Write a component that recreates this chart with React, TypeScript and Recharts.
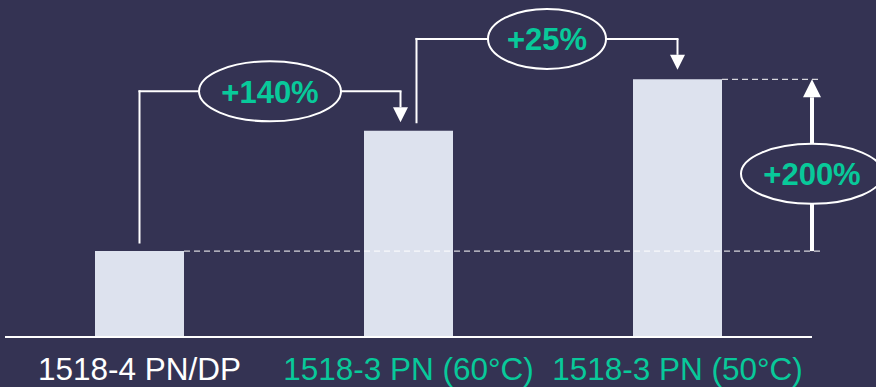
import React from "react";
import { BarChart, Bar, XAxis, YAxis, ReferenceLine } from "recharts";

const categories = ["1518-4 PN/DP", "1518-3 PN (60°C)", "1518-3 PN (50°C)"];
const values = [1, 2.4, 3];
const tickColors = ["#ffffff", "#08c99a", "#08c99a"];

// step annotations between neighbouring bars (value units)
const stepLabels = ["+140%", "+25%"];
const stepFrom = [1.1, 2.5];
const stepLevel = [2.86, 3.47];
const stepTo = [2.5, 3.11];

const totalLabel = "+200%";
const totalLabelAt = 1.9;

const BG = "#343353";
const BAR_FILL = "#dde2ee";
const GREEN = "#08c99a";
const FONT = "'Liberation Sans', Arial, sans-serif";

const W = 876;
const H = 387;
const MARGIN = { top: 2, right: 64, bottom: 0, left: 5 };
const BAR = 89;
const BAND = (W - MARGIN.left - MARGIN.right) / categories.length;
const ARROW_DX = 8;

const data = categories.map((name, i) => ({ name, value: values[i] }));

function Badge({ cx, cy, text }: any) {
  const rx = 12 * text.length + 11;
  return (
    <g>
      <ellipse cx={cx} cy={cy} rx={rx} ry={30} fill={BG} stroke="#fff" strokeWidth={2} />
      <text
        x={cx}
        y={cy + 1}
        textAnchor="middle"
        dominantBaseline="central"
        fontSize={31}
        fontWeight="bold"
        fontFamily={FONT}
        fill={GREEN}
      >
        {text}
      </text>
    </g>
  );
}

function Wire({ x1, y1, x2, y2, dx1 = 0, dx2 = 0, label, dash }: any) {
  const ax = x1 + dx1;
  const bx = x2 + dx2;
  return (
    <g>
      <line
        x1={ax}
        y1={y1}
        x2={bx}
        y2={y2}
        stroke="#fff"
        strokeWidth={dash ? 1 : 2}
        strokeDasharray={dash ? "6 4" : undefined}
        strokeLinecap={dash ? "butt" : "square"}
      />
      {label && <Badge cx={(ax + bx) / 2} cy={(y1 + y2) / 2} text={label} />}
    </g>
  );
}

function Arrow({ x1, y1, y2, dx = 0, width = 2, head = 15, label, labelT = 0.5 }: any) {
  const x = x1 + dx;
  const sign = y2 > y1 ? 1 : -1;
  const base = y2 - sign * head;
  return (
    <g>
      <line x1={x} y1={y1} x2={x} y2={base} stroke="#fff" strokeWidth={width} />
      <polygon
        points={`${x - head / 2},${base} ${x + head / 2},${base} ${x},${y2}`}
        fill="#fff"
      />
      {label && <Badge cx={x} cy={y1 + (y2 - y1) * labelT} text={label} />}
    </g>
  );
}

function Tick({ x, y, payload, index }: any) {
  return (
    <text
      x={x}
      y={y + 35}
      textAnchor="middle"
      fontSize={31.5}
      fontFamily={FONT}
      fill={tickColors[index]}
    >
      {payload.value}
    </text>
  );
}

export default function App() {
  const last = categories.length - 1;
  return (
    <div style={{ width: W, height: H, background: BG }}>
      <style>{"body{margin:0}"}</style>
      <BarChart width={W} height={H} data={data} margin={MARGIN}>
        <XAxis
          dataKey="name"
          interval={0}
          height={50}
          tickLine={false}
          axisLine={{ stroke: "#fff", strokeWidth: 2 }}
          tick={<Tick />}
        />
        <YAxis hide type="number" domain={[0, 3.9]} />

        <ReferenceLine
          ifOverflow="visible"
          segment={[
            { x: categories[0], y: values[0] },
            { x: categories[last], y: values[0] },
          ]}
          shape={(p: any) => <Wire {...p} dash dx1={BAR / 2} dx2={BAND / 2 + 8} />}
        />
        <ReferenceLine
          ifOverflow="visible"
          segment={[
            { x: categories[last], y: values[last] },
            { x: categories[last], y: values[last] },
          ]}
          shape={(p: any) => <Wire {...p} dash dx1={BAR / 2} dx2={BAND / 2 + 8} />}
        />

        <Bar dataKey="value" fill={BAR_FILL} barSize={BAR} isAnimationActive={false} />

        {stepLabels.map((label, i) => {
          const from = categories[i];
          const to = categories[i + 1];
          const dxFrom = i > 0 ? ARROW_DX : 0;
          const dxTo = i + 1 < last ? -ARROW_DX : 0;
          return [
            <ReferenceLine
              key={`v${i}`}
              ifOverflow="visible"
              segment={[
                { x: from, y: stepFrom[i] },
                { x: from, y: stepLevel[i] },
              ]}
              shape={(p: any) => <Wire {...p} dx1={dxFrom} dx2={dxFrom} />}
            />,
            <ReferenceLine
              key={`a${i}`}
              ifOverflow="visible"
              segment={[
                { x: to, y: stepLevel[i] },
                { x: to, y: stepTo[i] },
              ]}
              shape={(p: any) => <Arrow {...p} dx={dxTo} />}
            />,
            <ReferenceLine
              key={`h${i}`}
              ifOverflow="visible"
              segment={[
                { x: from, y: stepLevel[i] },
                { x: to, y: stepLevel[i] },
              ]}
              shape={(p: any) => <Wire {...p} dx1={dxFrom} dx2={dxTo} label={label} />}
            />,
          ];
        })}

        <ReferenceLine
          ifOverflow="visible"
          segment={[
            { x: categories[last], y: values[0] },
            { x: categories[last], y: values[last] },
          ]}
          shape={(p: any) => (
            <Arrow
              {...p}
              dx={BAND / 2}
              width={4}
              head={18}
              label={totalLabel}
              labelT={(totalLabelAt - values[0]) / (values[last] - values[0])}
            />
          )}
        />
      </BarChart>
    </div>
  );
}
